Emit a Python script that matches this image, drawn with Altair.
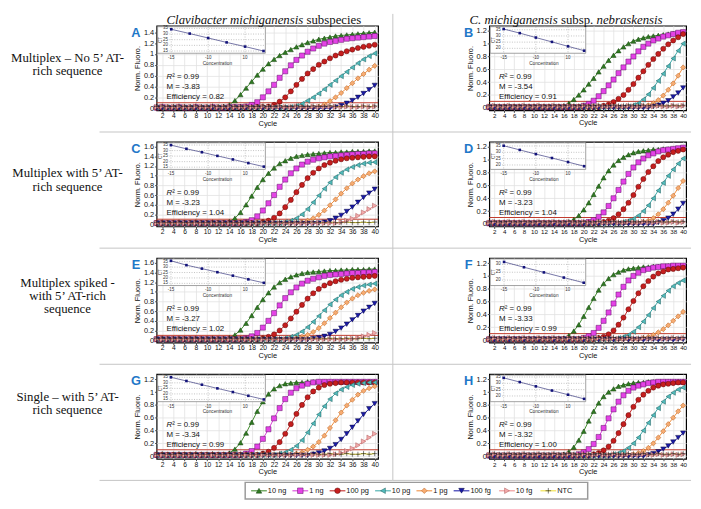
import altair as alt
import pandas as pd

CYCLES = [1, 2, 3, 4, 5, 6, 7, 8, 9, 10, 11, 12, 13, 14, 15, 16, 17, 18, 19, 20,
          21, 22, 23, 24, 25, 26, 27, 28, 29, 30, 31, 32, 33, 34, 35, 36, 37, 38, 39, 40]
X_TICKS = [2, 4, 6, 8, 10, 12, 14, 16, 18, 20, 22, 24, 26, 28, 30, 32, 34, 36, 38, 40]
SERIES = ["10 ng", "1 ng", "100 pg", "10 pg", "1 pg", "100 fg", "10 fg", "NTC"]

# ---- amplification curves, Norm. Fluoro. x 100, cycles 1..40 ----
FLAT_10FG = [2, 3, 2, 2, 3, 2, 2, 3, 2, 2, 3, 2, 2, 3, 2, 2, 3, 2, 2, 3,
             2, 2, 3, 2, 2, 3, 2, 2, 3, 2, 2, 3, 2, 2, 3, 2, 2, 3, 2, 3]
FLAT_NTC = [3, 4, 3, 3, 4, 3, 3, 4, 3, 3, 4, 3, 3, 4, 3, 3, 4, 3, 3, 4,
            3, 3, 4, 3, 3, 4, 3, 3, 4, 3, 3, 4, 3, 3, 4, 3, 3, 4, 3, 4]
FLAT_100FG = [1, 0, 1, 1, 0, 1, 1, 0, 1, 1, 0, 1, 1, 0, 1, 1, 0, 1, 1, 0,
              1, 1, 0, 1, 1, 0, 1, 1, 0, 1, 1, 0, 1, 1, 0, 1, 1, 0, 1, 1]

A_10NG = [2, 2, 1, 2, 2, 1, 2, 2, 1, 2, 2, 2, 3, 6, 14, 25, 37, 49, 61, 72,
          82, 90, 97, 103, 108, 113, 117, 121, 124, 127, 129, 131, 133, 134, 135, 136, 137, 138, 139, 140]
A_1NG = [1, 2, 1, 1, 2, 1, 1, 2, 1, 1, 2, 1, 1, 2, 2, 2, 3, 6, 11, 20,
         31, 43, 56, 68, 79, 89, 97, 104, 110, 115, 119, 122, 124, 126, 128, 129, 130, 131, 132, 133]
A_100PG = [1, 1, 1, 1, 1, 1, 1, 1, 1, 1, 1, 1, 1, 1, 1, 1, 1, 1, 2, 2,
           3, 6, 12, 20, 31, 43, 54, 64, 72, 80, 86, 92, 97, 101, 105, 108, 111, 113, 115, 117]
A_10PG = [1, 1, 1, 1, 1, 1, 1, 1, 1, 1, 1, 1, 1, 1, 1, 1, 1, 1, 1, 1,
          1, 1, 1, 1, 2, 4, 8, 14, 20, 27, 35, 43, 51, 59, 67, 75, 83, 90, 96, 101]
A_1PG = [1, 1, 1, 1, 1, 1, 1, 1, 1, 1, 1, 1, 1, 1, 1, 1, 1, 1, 1, 1,
         1, 1, 1, 1, 1, 1, 1, 1, 1, 3, 7, 13, 20, 28, 37, 46, 55, 63, 71, 78]
A_100FG = [0, 0, 0, 0, 0, 0, 0, 0, 0, 0, 0, 0, 0, 0, 0, 0, 0, 0, 0, 0,
           0, 0, 0, 0, 0, 0, 0, 0, 0, 0, 0, 0, 2, 5, 9, 14, 20, 27, 34, 42]

B_10NG = [1, 1, 1, 1, 1, 1, 1, 1, 1, 1, 1, 1, 1, 1, 2, 3, 7, 13, 20, 28,
          37, 46, 56, 65, 74, 82, 89, 95, 100, 104, 107, 109, 111, 112, 113, 114, 115, 116, 116, 117]
B_1NG = [1, 1, 1, 1, 1, 1, 1, 1, 1, 1, 1, 1, 1, 1, 1, 1, 1, 1, 1, 3,
         6, 11, 18, 26, 35, 44, 54, 63, 72, 80, 88, 95, 100, 105, 108, 111, 113, 115, 117, 118]
B_100PG = [1, 1, 1, 1, 1, 1, 1, 1, 1, 1, 1, 1, 1, 1, 1, 1, 1, 1, 1, 1,
           1, 1, 1, 3, 5, 9, 14, 20, 28, 37, 47, 57, 67, 76, 84, 92, 99, 105, 110, 115]
B_10PG = [1, 1, 1, 1, 1, 1, 1, 1, 1, 1, 1, 1, 1, 1, 1, 1, 1, 1, 1, 1,
          1, 1, 1, 1, 1, 1, 1, 1, 2, 4, 7, 13, 21, 31, 42, 53, 65, 77, 89, 100]
B_1PG = [1, 1, 1, 1, 1, 1, 1, 1, 1, 1, 1, 1, 1, 1, 1, 1, 1, 1, 1, 1,
         1, 1, 1, 1, 1, 1, 1, 1, 1, 1, 1, 2, 4, 7, 12, 19, 28, 38, 50, 63]
B_100FG = [0, 0, 0, 0, 0, 0, 0, 0, 0, 0, 0, 0, 0, 0, 0, 0, 0, 0, 0, 0,
           0, 0, 0, 0, 0, 0, 0, 0, 0, 0, 0, 0, 0, 2, 4, 7, 11, 17, 23, 31]

C_10NG = [2, 2, 2, 2, 2, 2, 2, 2, 2, 2, 2, 2, 3, 5, 12, 24, 40, 58, 76, 92,
          105, 116, 125, 131, 136, 140, 142, 144, 145, 146, 147, 148, 148, 149, 149, 150, 150, 150, 151, 151]
C_1NG = [2, 2, 2, 2, 2, 2, 2, 2, 2, 2, 2, 2, 2, 2, 2, 2, 4, 8, 16, 28,
         43, 60, 77, 92, 105, 115, 123, 129, 133, 136, 138, 140, 141, 142, 143, 144, 145, 145, 146, 146]
C_100PG = [2, 2, 2, 2, 2, 2, 2, 2, 2, 2, 2, 2, 2, 2, 2, 2, 2, 2, 2, 4,
           7, 13, 22, 35, 50, 66, 81, 95, 106, 115, 122, 127, 131, 134, 136, 137, 138, 139, 140, 140]
C_10PG = [2, 2, 2, 2, 2, 2, 2, 2, 2, 2, 2, 2, 2, 2, 2, 2, 2, 2, 2, 2,
          2, 2, 2, 4, 7, 12, 20, 31, 45, 59, 73, 86, 97, 106, 113, 118, 122, 125, 127, 128]
C_1PG = [2, 2, 2, 2, 2, 2, 2, 2, 2, 2, 2, 2, 2, 2, 2, 2, 2, 2, 2, 2,
         2, 2, 2, 2, 2, 2, 4, 7, 12, 19, 28, 39, 51, 63, 74, 84, 92, 99, 105, 109]
C_100FG = [1, 1, 1, 1, 1, 1, 1, 1, 1, 1, 1, 1, 1, 1, 1, 1, 1, 1, 1, 1,
           1, 1, 1, 1, 1, 1, 1, 1, 1, 2, 4, 7, 12, 18, 26, 35, 45, 55, 64, 72]
C_10FG = [2, 2, 2, 2, 2, 2, 2, 2, 2, 2, 2, 2, 2, 2, 2, 2, 2, 2, 2, 2,
          2, 2, 2, 2, 2, 2, 2, 2, 2, 2, 2, 2, 2, 4, 7, 11, 17, 24, 31, 38]

D_10NG = [1, 1, 1, 1, 1, 1, 1, 1, 1, 1, 1, 1, 1, 1, 1, 1, 3, 7, 13, 22,
          33, 46, 59, 72, 83, 92, 99, 104, 108, 111, 113, 114, 115, 116, 116, 117, 117, 117, 118, 118]
D_1NG = [1, 1, 1, 1, 1, 1, 1, 1, 1, 1, 1, 1, 1, 1, 1, 1, 1, 1, 1, 1,
         3, 6, 11, 18, 28, 40, 53, 66, 78, 88, 96, 102, 107, 110, 113, 115, 116, 117, 118, 119]
D_100PG = [1, 1, 1, 1, 1, 1, 1, 1, 1, 1, 1, 1, 1, 1, 1, 1, 1, 1, 1, 1,
           1, 1, 1, 3, 5, 9, 15, 23, 33, 45, 58, 70, 81, 90, 98, 104, 108, 112, 114, 116]
D_10PG = [1, 1, 1, 1, 1, 1, 1, 1, 1, 1, 1, 1, 1, 1, 1, 1, 1, 1, 1, 1,
          1, 1, 1, 1, 1, 1, 1, 3, 5, 8, 13, 20, 29, 40, 52, 64, 75, 85, 94, 102]
D_1PG = [1, 1, 1, 1, 1, 1, 1, 1, 1, 1, 1, 1, 1, 1, 1, 1, 1, 1, 1, 1,
         1, 1, 1, 1, 1, 1, 1, 1, 1, 1, 1, 3, 5, 9, 15, 23, 33, 44, 56, 67]
D_100FG = [0, 0, 0, 0, 0, 0, 0, 0, 0, 0, 0, 0, 0, 0, 0, 0, 0, 0, 0, 0,
           0, 0, 0, 0, 0, 0, 0, 0, 0, 0, 0, 0, 0, 0, 2, 5, 9, 15, 23, 32]

E_10NG = [2, 2, 2, 2, 2, 2, 2, 2, 2, 2, 2, 2, 3, 5, 11, 21, 35, 51, 68, 84,
          98, 110, 119, 126, 131, 135, 138, 140, 141, 142, 143, 144, 144, 145, 145, 146, 146, 146, 147, 147]
E_1NG = [2, 2, 2, 2, 2, 2, 2, 2, 2, 2, 2, 2, 2, 2, 2, 2, 4, 8, 15, 26,
         40, 56, 72, 87, 99, 109, 117, 123, 127, 130, 133, 135, 136, 137, 138, 139, 139, 140, 140, 141]
E_100PG = [2, 2, 2, 2, 2, 2, 2, 2, 2, 2, 2, 2, 2, 2, 2, 2, 2, 2, 2, 4,
           7, 12, 20, 31, 45, 59, 73, 86, 97, 106, 113, 118, 122, 125, 127, 129, 130, 131, 132, 133]
E_10PG = [2, 2, 2, 2, 2, 2, 2, 2, 2, 2, 2, 2, 2, 2, 2, 2, 2, 2, 2, 2,
          2, 2, 2, 4, 7, 11, 18, 27, 38, 50, 62, 74, 84, 93, 100, 106, 110, 113, 115, 117]
E_1PG = [2, 2, 2, 2, 2, 2, 2, 2, 2, 2, 2, 2, 2, 2, 2, 2, 2, 2, 2, 2,
         2, 2, 2, 2, 2, 4, 7, 11, 17, 25, 35, 46, 57, 68, 78, 86, 93, 98, 102, 105]
E_100FG = [1, 1, 1, 1, 1, 1, 1, 1, 1, 1, 1, 1, 1, 1, 1, 1, 1, 1, 1, 1,
           1, 1, 1, 1, 1, 1, 1, 1, 3, 5, 8, 12, 18, 25, 33, 42, 51, 60, 68, 76]
E_10FG = [2, 2, 2, 2, 2, 2, 2, 2, 2, 2, 2, 2, 2, 2, 2, 2, 2, 2, 2, 2,
          2, 2, 2, 2, 2, 2, 2, 2, 2, 2, 2, 2, 2, 2, 2, 3, 5, 8, 11, 15]

F_10NG = [1, 1, 1, 1, 1, 1, 1, 1, 1, 1, 1, 1, 1, 1, 1, 3, 7, 14, 24, 37,
          51, 65, 78, 88, 96, 102, 106, 109, 111, 112, 113, 114, 114, 115, 115, 115, 116, 116, 116, 116]
F_1NG = [1, 1, 1, 1, 1, 1, 1, 1, 1, 1, 1, 1, 1, 1, 1, 1, 1, 1, 1, 3,
         6, 11, 19, 30, 43, 57, 71, 83, 93, 100, 105, 109, 111, 113, 114, 115, 115, 116, 116, 116]
F_100PG = [1, 1, 1, 1, 1, 1, 1, 1, 1, 1, 1, 1, 1, 1, 1, 1, 1, 1, 1, 1,
           1, 1, 3, 5, 9, 15, 24, 35, 48, 61, 73, 84, 92, 99, 104, 107, 110, 111, 112, 113]
F_10PG = [1, 1, 1, 1, 1, 1, 1, 1, 1, 1, 1, 1, 1, 1, 1, 1, 1, 1, 1, 1,
          1, 1, 1, 1, 1, 1, 3, 5, 8, 13, 20, 29, 39, 50, 60, 69, 77, 84, 89, 93]
F_1PG = [1, 1, 1, 1, 1, 1, 1, 1, 1, 1, 1, 1, 1, 1, 1, 1, 1, 1, 1, 1,
         1, 1, 1, 1, 1, 1, 1, 1, 1, 1, 1, 3, 5, 8, 12, 17, 23, 30, 37, 44]

G_10NG = [2, 2, 2, 2, 2, 2, 2, 2, 2, 2, 2, 2, 3, 5, 11, 21, 36, 53, 70, 85,
          97, 105, 110, 113, 114, 115, 115, 116, 116, 116, 116, 116, 116, 116, 116, 116, 116, 116, 116, 116]
G_1NG = [2, 2, 2, 2, 2, 2, 2, 2, 2, 2, 2, 2, 2, 2, 2, 2, 4, 8, 15, 27,
         42, 59, 75, 89, 99, 106, 110, 113, 115, 116, 116, 116, 116, 116, 116, 116, 116, 116, 116, 116]
G_100PG = [2, 2, 2, 2, 2, 2, 2, 2, 2, 2, 2, 2, 2, 2, 2, 2, 2, 2, 2, 4,
           7, 13, 22, 35, 50, 66, 80, 92, 101, 107, 111, 113, 114, 115, 115, 115, 115, 115, 115, 115]
G_10PG = [2, 2, 2, 2, 2, 2, 2, 2, 2, 2, 2, 2, 2, 2, 2, 2, 2, 2, 2, 2,
          2, 2, 4, 6, 10, 16, 25, 37, 51, 65, 78, 89, 98, 104, 108, 111, 113, 114, 115, 115]
G_1PG = [2, 2, 2, 2, 2, 2, 2, 2, 2, 2, 2, 2, 2, 2, 2, 2, 2, 2, 2, 2,
         2, 2, 2, 2, 2, 4, 6, 10, 15, 22, 32, 44, 56, 68, 79, 88, 96, 102, 106, 109]
G_100FG = [1, 1, 1, 1, 1, 1, 1, 1, 1, 1, 1, 1, 1, 1, 1, 1, 1, 1, 1, 1,
           1, 1, 1, 1, 1, 1, 1, 1, 3, 5, 8, 12, 18, 26, 35, 45, 55, 65, 74, 82]
G_10FG = [2, 2, 2, 2, 2, 2, 2, 2, 2, 2, 2, 2, 2, 2, 2, 2, 2, 2, 2, 2,
          2, 2, 2, 2, 2, 2, 2, 2, 2, 2, 2, 2, 3, 5, 8, 12, 17, 23, 29, 35]

H_10NG = [1, 1, 1, 1, 1, 1, 1, 1, 1, 1, 1, 1, 1, 1, 1, 3, 7, 14, 25, 39,
          55, 70, 83, 93, 100, 105, 109, 111, 113, 114, 115, 115, 116, 116, 116, 116, 117, 117, 117, 117]
H_1NG = [1, 1, 1, 1, 1, 1, 1, 1, 1, 1, 1, 1, 1, 1, 1, 1, 1, 1, 3, 6,
         11, 19, 30, 44, 59, 73, 85, 95, 102, 107, 110, 112, 114, 115, 116, 116, 116, 116, 116, 116]
H_100PG = [1, 1, 1, 1, 1, 1, 1, 1, 1, 1, 1, 1, 1, 1, 1, 1, 1, 1, 1, 1,
           1, 3, 5, 9, 15, 24, 36, 50, 64, 77, 88, 96, 102, 107, 110, 112, 113, 114, 115, 115]
H_10PG = [1, 1, 1, 1, 1, 1, 1, 1, 1, 1, 1, 1, 1, 1, 1, 1, 1, 1, 1, 1,
          1, 1, 1, 1, 1, 3, 5, 8, 13, 20, 29, 40, 52, 64, 75, 85, 93, 99, 104, 107]
H_1PG = [1, 1, 1, 1, 1, 1, 1, 1, 1, 1, 1, 1, 1, 1, 1, 1, 1, 1, 1, 1,
         1, 1, 1, 1, 1, 1, 1, 1, 1, 3, 5, 8, 13, 20, 29, 39, 50, 60, 70, 79]
H_100FG = [0, 0, 0, 0, 0, 0, 0, 0, 0, 0, 0, 0, 0, 0, 0, 0, 0, 0, 0, 0,
           0, 0, 0, 0, 0, 0, 0, 0, 0, 0, 0, 0, 2, 4, 7, 11, 16, 22, 29, 36]

CURVES = {
    "A": [A_10NG, A_1NG, A_100PG, A_10PG, A_1PG, A_100FG, FLAT_10FG, FLAT_NTC],
    "B": [B_10NG, B_1NG, B_100PG, B_10PG, B_1PG, B_100FG, FLAT_10FG, FLAT_NTC],
    "C": [C_10NG, C_1NG, C_100PG, C_10PG, C_1PG, C_100FG, C_10FG, FLAT_NTC],
    "D": [D_10NG, D_1NG, D_100PG, D_10PG, D_1PG, D_100FG, FLAT_10FG, FLAT_NTC],
    "E": [E_10NG, E_1NG, E_100PG, E_10PG, E_1PG, E_100FG, E_10FG, FLAT_NTC],
    "F": [F_10NG, F_1NG, F_100PG, F_10PG, F_1PG, FLAT_100FG, FLAT_10FG, FLAT_NTC],
    "G": [G_10NG, G_1NG, G_100PG, G_10PG, G_1PG, G_100FG, G_10FG, FLAT_NTC],
    "H": [H_10NG, H_1NG, H_100PG, H_10PG, H_1PG, H_100FG, FLAT_10FG, FLAT_NTC],
}

Y_TICKS = {
    "A": [0, 0.2, 0.4, 0.6, 0.8, 1, 1.2, 1.4],
    "B": [0, 0.2, 0.4, 0.6, 0.8, 1, 1.2],
    "C": [0, 0.2, 0.4, 0.6, 0.8, 1, 1.2, 1.4, 1.6],
    "D": [0, 0.2, 0.4, 0.6, 0.8, 1, 1.2],
    "E": [0, 0.2, 0.4, 0.6, 0.8, 1, 1.2, 1.4, 1.6],
    "F": [0, 0.2, 0.4, 0.6, 0.8, 1, 1.2],
    "G": [0, 0.2, 0.4, 0.6, 0.8, 1, 1.2],
    "H": [0, 0.2, 0.4, 0.6, 0.8, 1, 1.2],
}
Y_DOMAIN = {
    "A": [-0.04, 1.52], "B": [-0.04, 1.28], "C": [-0.05, 1.70], "D": [-0.04, 1.28],
    "E": [-0.05, 1.70], "F": [-0.04, 1.28], "G": [-0.04, 1.28], "H": [-0.04, 1.28],
}
THRESHOLD = {"A": 0.1, "B": 0.1, "C": 0.1, "D": 0.1, "E": 0.1, "F": 0.1, "G": 0.1, "H": 0.1}

STATS = {
    "A": ("0.99", "-3.83", "0.82"), "B": ("0.99", "-3.54", "0.91"),
    "C": ("0.99", "-3.23", "1.04"), "D": ("0.99", "-3.23", "1.04"),
    "E": ("0.99", "-3.27", "1.02"), "F": ("0.99", "-3.33", "0.99"),
    "G": ("0.99", "-3.34", "0.99"), "H": ("0.99", "-3.32", "1.00"),
}

# ---- standard-curve insets (CT per dilution, low to high concentration) ----
INSET_CT = {
    "A": [34.2, 30.4, 26.5, 22.6, 18.9, 15.0],
    "B": [35.6, 32.3, 28.7, 25.2, 21.6, 18.1],
    "C": [34.9, 31.6, 28.5, 25.2, 22.0, 18.7, 15.5],
    "D": [35.2, 31.9, 28.6, 25.5, 22.3, 19.0],
    "E": [35.8, 31.8, 28.6, 25.3, 22.1, 18.7, 15.5],
    "F": [31.6, 28.2, 24.9, 21.6, 18.3],
    "G": [35.0, 31.7, 28.3, 25.0, 21.7, 18.3, 15.0],
    "H": [34.3, 31.0, 27.6, 24.3, 21.0, 17.7],
}
INSET_DOMAIN = {
    "A": [13.0, 36.5], "B": [16.0, 37.5], "C": [13.0, 37.0], "D": [16.5, 37.5],
    "E": [13.0, 37.5], "F": [16.5, 33.5], "G": [13.0, 37.0], "H": [15.5, 36.5],
}
INSET_TICKS = {
    "A": [15, 20, 25, 30, 35], "B": [20, 25, 30, 35], "C": [15, 20, 25, 30, 35],
    "D": [20, 25, 30, 35], "E": [15, 20, 25, 30, 35], "F": [20, 25, 30],
    "G": [15, 20, 25, 30, 35], "H": [20, 25, 30, 35],
}
INSET_XTICK_IDX = {6: [0, 2, 4], 7: [0, 2.4, 4.8], 5: [0, 1.6, 3.2]}
INSET_XLABELS = ["-15", "-10", "10"]

ROW_LABELS = [
    "Multiplex \u2013 No 5\u2019 AT-\nrich sequence",
    "Multiplex with 5\u2019 AT-\nrich sequence",
    "Multiplex spiked -\nwith 5\u2019 AT-rich\nsequence",
    "Single \u2013 with 5\u2019 AT-\nrich sequence",
]
LABEL_Y = [33, 32, 25, 23]
PANEL_GRID = [["A", "B"], ["C", "D"], ["E", "F"], ["G", "H"]]

LINE_COLORS = ["#3d8a2a", "#d83cd8", "#c22020", "#3aa8a8", "#f08c3a", "#1a1aa8", "#ec8c8c", "#efe03a"]
FILL_COLORS = ["#2f7a22", "#e443e6", "#c61e1e", "#52bcbc", "#f7ac72", "#1a1aa8", "#f4abab", "#000000"]
STROKE_COLORS = ["#173f10", "#5a1060", "#5c0a0a", "#1d5a5a", "#b05a18", "#06063c", "#a85858", "#000000"]
SHAPES = ["triangle-up", "square", "circle", "triangle-left", "diamond",
          "triangle-down", "triangle-right", "M-1,0L1,0M0,-1L0,1"]
STROKE_W = [0.5, 0.5, 0.5, 0.5, 0.5, 0.5, 0.5, 0.9]

PH = 86
COL_W = [225, 200]
SANS = "Liberation Sans"
SERIF = "Liberation Serif"
ONE = pd.DataFrame({"k": [0]})


def txt(text, x, y, **kw):
    opts = dict(font=SANS, fontSize=8, align="left", baseline="middle", color="#111")
    opts.update(kw)
    return alt.Chart(ONE).mark_text(text=text, **opts).encode(x=alt.value(x), y=alt.value(y))


def series_enc():
    return dict(
        fill=alt.Fill("series:N", scale=alt.Scale(domain=SERIES, range=FILL_COLORS), legend=None),
        stroke=alt.Stroke("series:N", scale=alt.Scale(domain=SERIES, range=STROKE_COLORS), legend=None),
        shape=alt.Shape("series:N", scale=alt.Scale(domain=SERIES, range=SHAPES), legend=None),
        strokeWidth=alt.StrokeWidth("series:N", scale=alt.Scale(domain=SERIES, range=STROKE_W), legend=None),
    )


def make_panel(key, col, row):
    W = COL_W[col]
    recs = []
    for s, arr in zip(SERIES, CURVES[key]):
        for c, v in zip(CYCLES, arr):
            recs.append({"cycle": c, "value": v / 100.0, "series": s})
    df = pd.DataFrame(recs)

    xs = alt.Scale(domain=[1, 40.6], nice=False, zero=False)
    ys = alt.Scale(domain=Y_DOMAIN[key], nice=False, zero=False)
    X = alt.X("cycle:Q", scale=xs, axis=alt.Axis(values=X_TICKS, title="Cycle", grid=True,
              labelOverlap=False, labelFlush=False, labelPadding=0.5, titlePadding=0, tickSize=2,
              labelFontSize=6.8 if col == 0 else 6.3))
    Y = alt.Y("value:Q", scale=ys, axis=alt.Axis(values=Y_TICKS[key], title="Norm. Fluoro.", format="~g",
              grid=True, labelOverlap=False, labelFlush=False, labelPadding=1, titlePadding=2, tickSize=2))

    thr = alt.Chart(pd.DataFrame({"value": [THRESHOLD[key]]})).mark_rule(
        color="#c0392b", strokeWidth=1).encode(y=Y)
    lines = alt.Chart(df).mark_line(strokeWidth=1).encode(
        x=X, y=Y, color=alt.Color("series:N", scale=alt.Scale(domain=SERIES, range=LINE_COLORS), legend=None))
    pts = alt.Chart(df).mark_point(filled=True, size=27, opacity=1).encode(x=X, y=Y, **series_enc())
    main = alt.layer(thr, lines, pts)

    # inset standard curve
    IR = W * 0.5 - 2
    cts = INSET_CT[key]
    n = len(cts)
    idf = pd.DataFrame({"ix": list(range(n)), "ct": cts})
    ixs = alt.Scale(domain=[-0.1, n - 0.9], range=[13, IR], nice=False, zero=False)
    iys = alt.Scale(domain=INSET_DOMAIN[key], range=[28, 1], nice=False, zero=False)
    ibg = alt.Chart(ONE).mark_rect(fill="white", stroke="#8a8a8a", strokeWidth=0.8).encode(
        x=alt.value(1), x2=alt.value(IR), y=alt.value(1), y2=alt.value(28))
    igy = alt.Chart(pd.DataFrame({"ct": INSET_TICKS[key]})).mark_rule(
        color="#9a9a9a", strokeDash=[1, 1.5], strokeWidth=0.6).encode(
        y=alt.Y("ct:Q", scale=iys, axis=None), x=alt.value(13), x2=alt.value(IR))
    xl = pd.DataFrame({"ix": INSET_XTICK_IDX[n], "lab": INSET_XLABELS})
    igx = alt.Chart(xl).mark_rule(color="#9a9a9a", strokeDash=[1, 1.5], strokeWidth=0.6).encode(
        x=alt.X("ix:Q", scale=ixs, axis=None), y=alt.value(1), y2=alt.value(28))
    ixl = alt.Chart(xl).mark_text(font=SANS, fontSize=4.5, color="#333", baseline="middle").encode(
        x=alt.X("ix:Q", scale=ixs, axis=None), y=alt.value(33), text="lab:N")
    iyl = alt.Chart(pd.DataFrame({"ct": INSET_TICKS[key]})).mark_text(
        font=SANS, fontSize=4.5, color="#333", align="right", baseline="middle").encode(
        y=alt.Y("ct:Q", scale=iys, axis=None), x=alt.value(11.5), text="ct:Q")
    iline = alt.Chart(idf).mark_line(color="#3a3a80", strokeWidth=0.7).encode(
        x=alt.X("ix:Q", scale=ixs, axis=None), y=alt.Y("ct:Q", scale=iys, axis=None))
    ipts = alt.Chart(idf).mark_point(filled=True, size=7, color="#12127a", shape="square", opacity=1).encode(
        x=alt.X("ix:Q", scale=ixs, axis=None), y=alt.Y("ct:Q", scale=iys, axis=None))
    ict = txt("CT", 4.5, 14.5, fontSize=4.5, angle=270, align="center", color="#333")
    icn = txt("Concentration", (13 + IR) / 2, 39, fontSize=4.8, align="center", color="#333")

    r2, m, eff = STATS[key]
    stats = [
        txt("R", 10, 52, fontStyle="italic"),
        txt("\u00b2 = " + r2, 15.8, 52),
        txt("M = " + m, 10, 62),
        txt("Efficiency = " + eff, 10, 72),
    ]
    letter = txt(key, -21, 7, fontSize=13, fontWeight="bold", align="center", color="#1f78c8")

    extra = []
    if col == 0:
        extra.append(alt.Chart(ONE).mark_rule(color="#c4c4c4", strokeWidth=1).encode(
            x=alt.value(-58), x2=alt.value(W + 15), y=alt.value(PH + 22)))
        extra.append(alt.Chart(ONE).mark_rule(color="#c4c4c4", strokeWidth=1).encode(
            x=alt.value(W + 15), y=alt.value(-12 if row == 0 else -10), y2=alt.value(PH + 22)))
    else:
        extra.append(alt.Chart(ONE).mark_rule(color="#c4c4c4", strokeWidth=1).encode(
            x=alt.value(-98), x2=alt.value(W + 5), y=alt.value(PH + 22)))
    if row == 0:
        if col == 0:
            extra += [txt("Clavibacter michiganensis", 149, -6, font=SERIF, fontSize=13,
                          fontStyle="italic", align="right"),
                      txt("subspecies", 152.3, -6, font=SERIF, fontSize=13)]
        else:
            x0 = -20
            extra += [txt("C. michiganensis", x0, -6, font=SERIF, fontSize=13, fontStyle="italic"),
                      txt("subsp.", x0 + 92.85, -6, font=SERIF, fontSize=13),
                      txt("nebraskensis", x0 + 129.0, -6, font=SERIF, fontSize=13, fontStyle="italic")]

    layers = [main, ibg, igy, igx, iline, ipts, iyl, ixl, ict, icn] + stats + [letter] + extra
    return alt.layer(*layers).resolve_scale(x="independent", y="independent").properties(width=W, height=PH)


def make_label(i):
    df = pd.DataFrame({"t": [ROW_LABELS[i]]})
    return alt.Chart(df).mark_text(font=SERIF, fontSize=13, lineBreak="\n", lineHeight=13.5,
                                   align="center", baseline="middle", color="#111").encode(
        text="t:N", x=alt.value(59.5), y=alt.value(LABEL_Y[i])).properties(
        width=37, height=PH, view=alt.ViewBackground(stroke="transparent"))


def make_legend():
    # entry spacing follows the label lengths (marker + text + gap)
    offs = [0]
    for s in SERIES[:-1]:
        offs.append(offs[-1] + 21 + 4.2 * len(s))
    ldf = pd.DataFrame({"pos": offs, "series": SERIES})
    ls = alt.Scale(domain=[0, offs[-1]], range=[254, 254 + offs[-1]], nice=False, zero=False)
    LX = alt.X("pos:Q", scale=ls, axis=None)
    box = alt.Chart(ONE).mark_rect(fill="white", stroke="#9a9a9a", strokeWidth=1.5).encode(
        x=alt.value(240), x2=alt.value(588), y=alt.value(-8), y2=alt.value(9))
    ticks = alt.Chart(ldf).mark_tick(orient="horizontal", size=16, thickness=1.5).encode(
        x=LX, y=alt.value(0.5),
        color=alt.Color("series:N", scale=alt.Scale(domain=SERIES, range=LINE_COLORS), legend=None))
    pts = alt.Chart(ldf).mark_point(filled=True, size=32, opacity=1).encode(x=LX, y=alt.value(0.5), **series_enc())
    labs = alt.Chart(ldf).mark_text(font=SANS, fontSize=7.5, align="left", baseline="middle", dx=9,
                                    color="#111").encode(x=LX, y=alt.value(0.5), text="series:N")
    return alt.layer(box, ticks, pts, labs).properties(
        width=37, height=10, view=alt.ViewBackground(stroke="transparent"))


cells = []
for r, (kl, kr) in enumerate(PANEL_GRID):
    cells += [make_label(r), make_panel(kl, 0, r), make_panel(kr, 1, r)]
cells.append(make_legend())

chart = alt.concat(*cells, columns=3, spacing={"row": 32, "column": 113}, bounds="flush", align="each").properties(
    padding=0
).configure_view(stroke="#000", strokeWidth=1.2).configure_axis(
    labelFont=SANS, titleFont=SANS, labelFontSize=7.5, titleFontSize=7.5, titleFontWeight="normal",
    labelColor="#111", titleColor="#111", tickColor="#444", gridColor="#e2e2e2", gridWidth=0.8, domain=False
)

chart.save("out.html", embed_options={"renderer": "svg", "actions": False})
